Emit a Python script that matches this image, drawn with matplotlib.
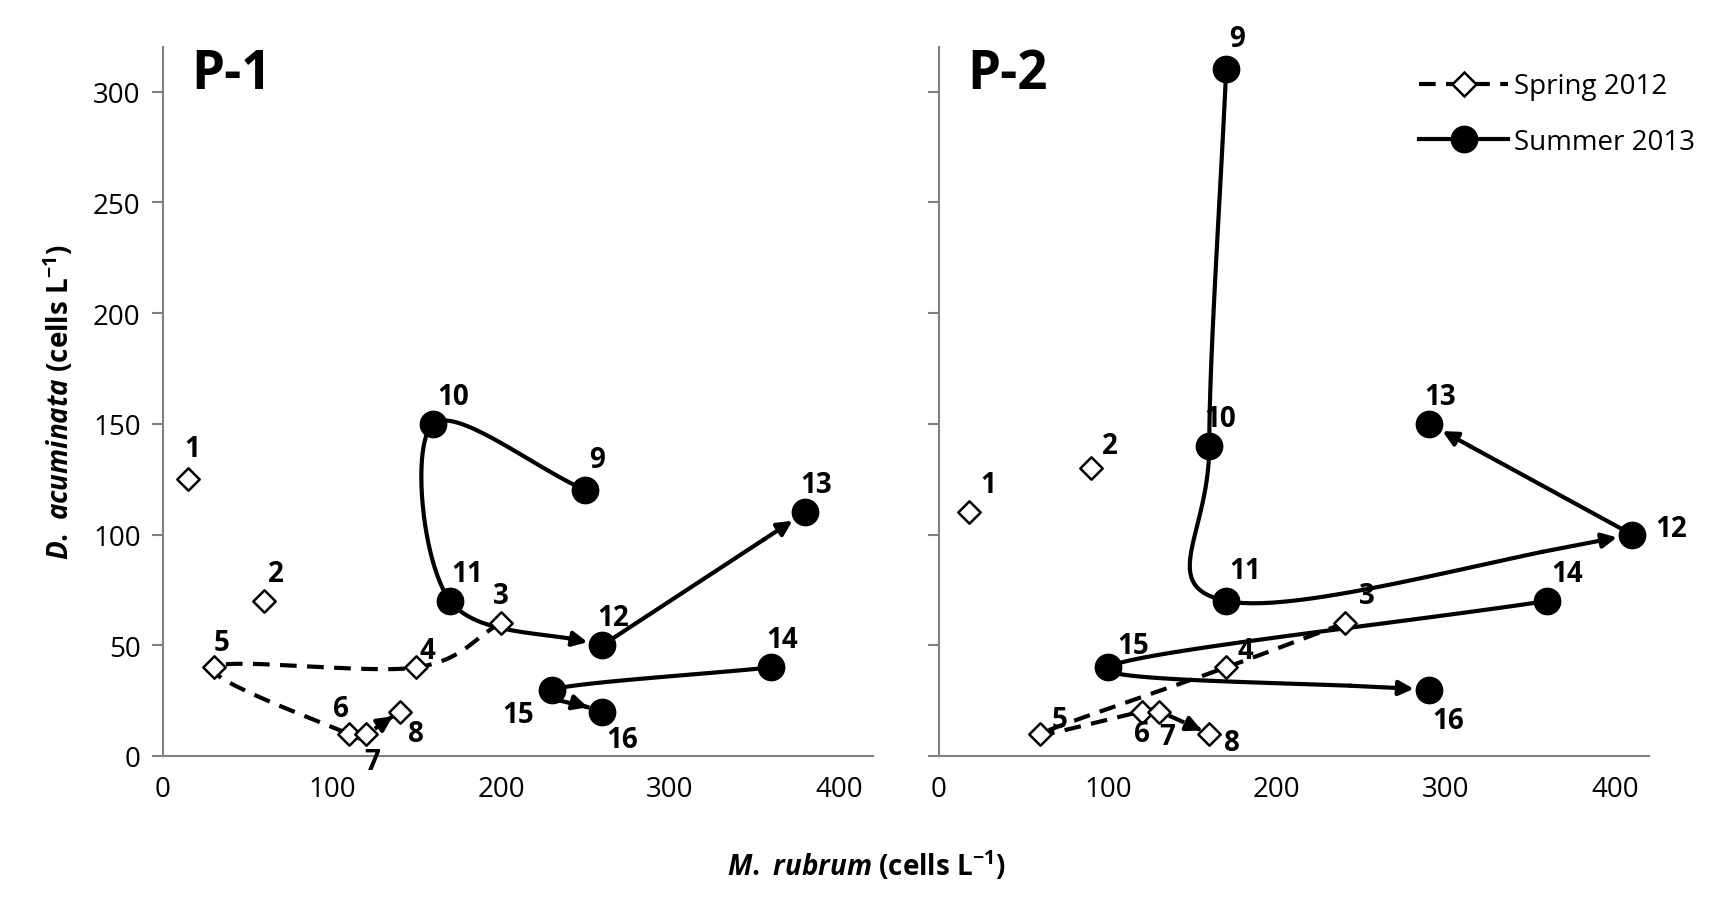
import numpy as np
import matplotlib
matplotlib.use("Agg")
import matplotlib.pyplot as plt
from matplotlib.lines import Line2D

plt.rcParams["font.family"] = ["Open Sans", "DejaVu Sans"]
plt.rcParams["mathtext.fontset"] = "custom"
plt.rcParams["mathtext.it"] = "Open Sans:italic:bold"
plt.rcParams["mathtext.rm"] = "Open Sans:bold"
plt.rcParams["mathtext.bf"] = "Open Sans:bold"

# P-1
p1_spring_x = [15, 60, 200, 150, 30, 110, 120, 140]
p1_spring_y = [125, 70, 60, 40, 40, 10, 10, 20]
p1_summer_x = [250, 160, 170, 260, 380, 360, 230, 260]
p1_summer_y = [120, 150, 70, 50, 110, 40, 30, 20]
# P-2
p2_spring_x = [18, 90, 240, 170, 60, 120, 130, 160]
p2_spring_y = [110, 130, 60, 40, 10, 20, 20, 10]
p2_summer_x = [170, 160, 170, 410, 290, 360, 100, 290]
p2_summer_y = [310, 140, 70, 100, 150, 70, 40, 30]

spring_labels = ["1", "2", "3", "4", "5", "6", "7", "8"]
summer_labels = ["9", "10", "11", "12", "13", "14", "15", "16"]

# label offsets in points
p1_spring_off = [(3, 22), (8, 20), (0, 20), (8, 12), (6, 18), (-6, 18), (5, -20), (12, -16)]
p1_summer_off = [(8, 22), (14, 20), (12, 20), (8, 20), (8, 20), (8, 20), (-24, -18), (14, -20)]
p2_spring_off = [(14, 20), (14, 16), (16, 20), (14, 12), (14, 10), (0, -16), (6, -18), (16, -6)]
p2_summer_off = [(8, 22), (8, 20), (14, 22), (28, 4), (8, 20), (14, 20), (18, 16), (14, -22)]


def spline(xs, ys, n=30):
    pts = np.column_stack([xs, ys]).astype(float)
    if len(pts) == 2:
        t = np.linspace(0, 1, n)[:, None]
        seg = pts[0] + (pts[1] - pts[0]) * t
        return seg[:, 0], seg[:, 1]
    p = np.vstack([2 * pts[0] - pts[1], pts, 2 * pts[-1] - pts[-2]])
    out = []
    t = np.linspace(0, 1, n)[:, None]
    for i in range(1, len(p) - 2):
        p0, p1, p2, p3 = p[i - 1], p[i], p[i + 1], p[i + 2]
        seg = 0.5 * ((2 * p1) + (-p0 + p2) * t + (2 * p0 - 5 * p1 + 4 * p2 - p3) * t ** 2
                     + (-p0 + 3 * p1 - 3 * p2 + p3) * t ** 3)
        out.append(seg if i == 1 else seg[1:])
    out = np.vstack(out)
    return out[:, 0], out[:, 1]


def draw_path(ax, xs, ys, ls, shrink):
    cx, cy = spline(xs, ys)
    ax.plot(cx[:-6], cy[:-6], color="black", lw=3, ls=ls, zorder=2,
            dashes=(4, 2.5) if ls == "--" else (None, None))
    ax.annotate("", xy=(cx[-1], cy[-1]), xytext=(cx[-7], cy[-7]),
                arrowprops=dict(arrowstyle="-|>", color="black", lw=3,
                                mutation_scale=22, shrinkA=0, shrinkB=shrink),
                zorder=2)


def panel(ax, sx, sy, wx, wy, s_off, w_off, title):
    draw_path(ax, sx[2:], sy[2:], "--", 6)
    draw_path(ax, wx[:4], wy[:4], "-", 11)
    draw_path(ax, wx[3:5], wy[3:5], "-", 11)
    draw_path(ax, wx[5:], wy[5:], "-", 11)
    ax.scatter(sx, sy, marker="D", s=130, facecolor="white", edgecolor="black",
               linewidth=1.8, zorder=3)
    ax.scatter(wx, wy, marker="o", s=360, color="black", zorder=3)
    for x, y, lab, off in zip(sx, sy, spring_labels, s_off):
        ax.annotate(lab, (x, y), xytext=off, textcoords="offset points",
                    fontsize=20, fontweight="bold", ha="center", va="center")
    for x, y, lab, off in zip(wx, wy, summer_labels, w_off):
        ax.annotate(lab, (x, y), xytext=off, textcoords="offset points",
                    fontsize=20, fontweight="bold", ha="center", va="center")
    ax.set_xlim(0, 420)
    ax.set_ylim(0, 320)
    ax.set_xticks([0, 100, 200, 300, 400])
    ax.set_yticks([0, 50, 100, 150, 200, 250, 300])
    for s in ["top", "right"]:
        ax.spines[s].set_visible(False)
    for s in ["left", "bottom"]:
        ax.spines[s].set_color("#808080")
        ax.spines[s].set_linewidth(1.5)
    ax.tick_params(direction="out", length=8, width=1.5, color="#808080",
                   labelsize=20, pad=8)
    ax.tick_params(axis="x", length=0, pad=14)
    ax.text(0.04, 1.0, title, transform=ax.transAxes, fontsize=38,
            fontweight="bold", va="top")


fig = plt.figure(figsize=(17.32, 9.12), dpi=100)
ax1 = fig.add_axes([0.094, 0.17, 0.41, 0.777])
ax2 = fig.add_axes([0.542, 0.17, 0.41, 0.777])
panel(ax1, p1_spring_x, p1_spring_y, p1_summer_x, p1_summer_y,
      p1_spring_off, p1_summer_off, "P-1")
panel(ax2, p2_spring_x, p2_spring_y, p2_summer_x, p2_summer_y,
      p2_spring_off, p2_summer_off, "P-2")
ax2.set_yticklabels([])

ax1.set_ylabel(r"$D.\ acuminata$ (cells L$^{-1}$)", fontsize=20,
               fontweight="bold", labelpad=12)
fig.text(0.5, 0.04, r"$M.\ rubrum$ (cells L$^{-1}$)", fontsize=20,
         fontweight="bold", ha="center")

handles = [
    Line2D([], [], color="black", lw=3, ls=(0, (4, 2.5)), marker="D",
           markersize=12, markerfacecolor="white", markeredgewidth=1.8),
    Line2D([], [], color="black", lw=3, marker="o", markersize=19),
]
ax2.legend(handles, ["Spring 2012", "Summer 2013"], loc="upper right",
           bbox_to_anchor=(1.1, 1.0), frameon=False, fontsize=20,
           handlelength=3.2, handletextpad=0.2, labelspacing=1.0)

fig.savefig("out.png", dpi=100)
